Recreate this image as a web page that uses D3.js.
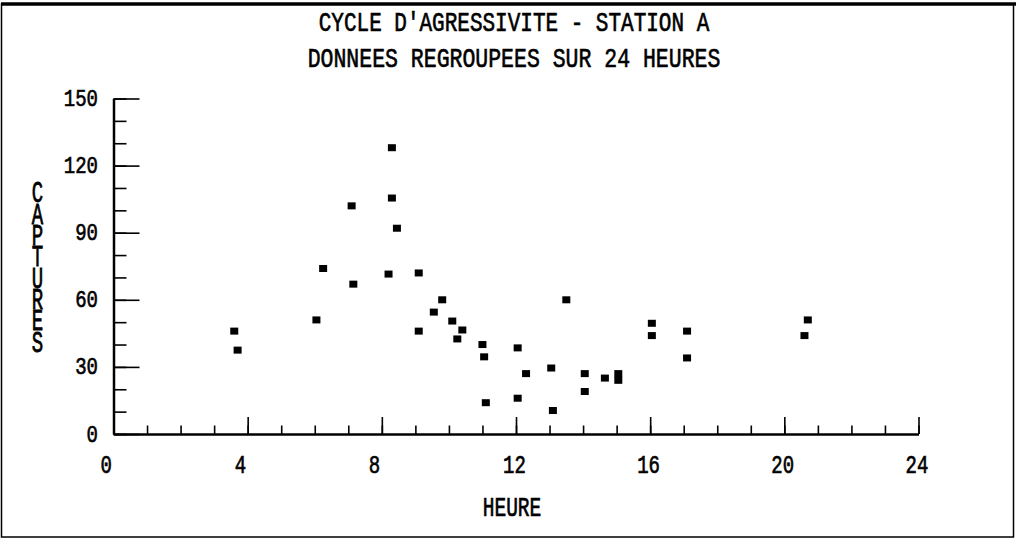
<!DOCTYPE html>
<meta charset="utf-8">
<style>
    body { margin: 0; background: #fff; }
    svg { display: block; }
    .lbl { font-family: "Liberation Mono", monospace; fill: #000; stroke: #000; stroke-width: 0.5; }
    .vert { writing-mode: vertical-rl; text-orientation: upright; }
    .axis path, .axis line { stroke: #000; }
    .axis path { stroke-width: 2.5; }
    .axis line { stroke-width: 1.6; }
</style>
<svg width="1016" height="540"></svg>
<script src="https://d3js.org/d3.v7.min.js"></script>
<script>

    // heure (0-24) et nombre de captures
    var heures   = [3.6, 3.7, 6.05, 6.25, 7.1, 7.15, 8.3, 8.3, 8.45, 8.2, 9.1, 9.1, 9.8, 9.55, 10.1, 10.4, 10.25,
                    11.0, 11.05, 11.1, 12.05, 12.05, 12.3, 13.05, 13.1, 13.5, 14.05, 14.05, 14.65, 15.05, 15.05,
                    16.05, 16.05, 17.1, 17.1, 20.7, 20.6];
    var captures = [46, 37.5, 51, 74, 102, 67, 128, 105.5, 92, 71.5, 72, 46, 60, 54.5, 50.5, 46.5, 42.5,
                    40, 34.5, 14, 38.5, 16, 27, 29.5, 10.5, 60, 27, 19, 25, 27, 24,
                    49.5, 44, 46, 34, 51, 44];

    var xTicks = [0, 4, 8, 12, 16, 20, 24];
    var yTicks = [0, 30, 60, 90, 120, 150];
    var titre = ["CYCLE D'AGRESSIVITE - STATION A", "DONNEES REGROUPEES SUR 24 HEURES"];
    var xTitre = "HEURE";
    var yTitre = "CAPTURES";

    var svg = d3.select("svg");

    // cadre
    svg.append("rect")
        .attr("x", 1.5).attr("y", 4).attr("width", 1012).attr("height", 533)
        .attr("fill", "none").attr("stroke", "#000").attr("stroke-width", 1.5);
    svg.append("line")
        .attr("x1", 1).attr("x2", 1016).attr("y1", 4).attr("y2", 4)
        .attr("stroke", "#000").attr("stroke-width", 3.5);

    var x = d3.scaleLinear().domain([0, 24]).range([113.5, 918.5]),
        y = d3.scaleLinear().domain([0, 150]).range([434, 98.5]);

    // axe Y : graduations principales et secondaires vers l'interieur
    svg.append("g")
        .attr("class", "axis")
        .attr("transform", "translate(" + x(0) + ",0)")
        .call(d3.axisLeft(y).tickValues(d3.range(0, 151, 10)).tickSizeInner(-13).tickSizeOuter(0).tickFormat(""));
    svg.append("g")
        .attr("class", "axis")
        .attr("transform", "translate(" + x(0) + ",0)")
        .call(d3.axisLeft(y).tickValues(yTicks).tickSizeInner(-26).tickSizeOuter(0).tickFormat(""))
        .select(".domain").remove();

    // axe X
    svg.append("g")
        .attr("class", "axis")
        .attr("transform", "translate(0," + y(0) + ")")
        .call(d3.axisBottom(x).tickValues(d3.range(0, 25, 1)).tickSizeInner(-8.5).tickSizeOuter(0).tickFormat(""));
    svg.append("g")
        .attr("class", "axis")
        .attr("transform", "translate(0," + y(0) + ")")
        .call(d3.axisBottom(x).tickValues(xTicks).tickSizeInner(-17).tickSizeOuter(0).tickFormat(""))
        .select(".domain").remove();

    // libelles (police etiree verticalement comme le traceur)
    function stretched(t, px, py, size, sy, anchor) {
        return svg.append("text")
            .attr("class", "lbl")
            .attr("transform", "translate(" + px + "," + py + ") scale(1," + sy + ")")
            .attr("font-size", size)
            .attr("text-anchor", anchor)
            .text(t);
    }

    yTicks.forEach(function(v) {
        stretched(v, 98, y(v) + 7.5, 19, 1.3, "end");
    });
    xTicks.forEach(function(v) {
        stretched(v, x(v) - 13, 472.5, 19, 1.35, "start");
    });

    stretched(titre[0], 514, 31, 21, 1.3, "middle");
    stretched(titre[1], 514, 66.5, 21.5, 1.3, "middle");
    stretched(xTitre, 512, 516, 19.5, 1.4, "middle");

    // titre vertical : lettres empilees (ecriture verticale)
    stretched(yTitre, 37.5, 177, 19, 1.6, "start")
        .attr("class", "lbl vert")
        .style("letter-spacing", "-8.4px");

    // points
    var pts = heures.map(function(h, i) { return {h: h, c: captures[i]}; });
    svg.append("g")
        .selectAll("rect")
        .data(pts)
        .enter().append("rect")
        .attr("x", function(d) { return x(d.h) - 4; })
        .attr("y", function(d) { return y(d.c) - 3.5; })
        .attr("width", 8)
        .attr("height", 7)
        .attr("fill", "#000");

</script>
